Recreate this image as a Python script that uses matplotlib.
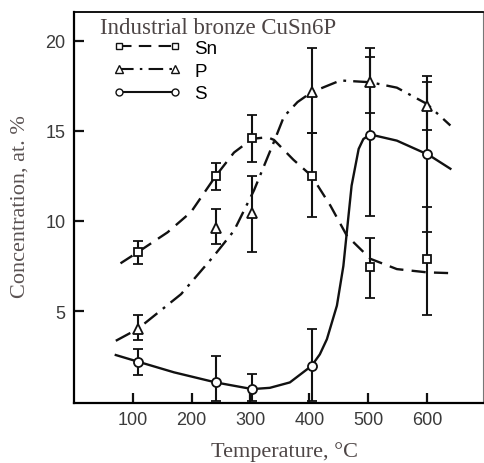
import matplotlib
matplotlib.use("Agg")
import matplotlib.pyplot as plt
from matplotlib.lines import Line2D

# measured points (temperature in C, concentration at.%)
temp = [108, 241, 303, 404, 504, 600]
sn = [8.26, 12.5, 14.6, 12.5, 7.45, 7.9]
sn_lo = [7.6, 11.7, 13.3, 10.2, 5.7, 4.8]
sn_hi = [8.9, 13.2, 15.9, 14.9, 9.05, 10.8]
p = [4.0, 9.6, 10.45, 17.15, 17.7, 16.4]
p_lo = [3.4, 8.7, 8.3, 14.9, 16.0, 15.05]
p_hi = [4.8, 10.67, 12.5, 19.6, 19.6, 18.05]
s = [2.2, 1.07, 0.67, 1.96, 14.8, 13.7]
s_lo = [1.46, 0.0, 0.0, 0.0, 10.3, 9.4]
s_hi = [2.9, 2.5, 1.5, 4.0, 19.1, 17.7]

# hand-drawn trend curves
sn_curve_t = [79, 108, 159, 199, 241, 272, 303, 329, 340, 373, 404, 436, 464, 504, 549, 600, 645]
sn_curve_c = [7.65, 8.26, 9.37, 10.5, 12.5, 13.8, 14.56, 14.65, 14.5, 13.4, 12.5, 10.85, 9.18, 7.9, 7.33, 7.15, 7.1]
p_curve_t = [71, 108, 182, 238, 272, 306, 340, 357, 380, 404, 453, 504, 549, 600, 640]
p_curve_c = [3.35, 4.0, 5.94, 8.07, 9.46, 11.7, 14.4, 15.8, 16.6, 17.15, 17.8, 17.7, 17.4, 16.5, 15.3]
s_curve_t = [71, 108, 170, 241, 303, 333, 367, 404, 418, 430, 447, 458, 465, 472, 484, 492, 504, 549, 603, 640]
s_curve_c = [2.56, 2.2, 1.6, 1.04, 0.67, 0.74, 1.04, 1.96, 2.6, 3.44, 5.3, 7.5, 9.74, 11.96, 14.0, 14.55, 14.8, 14.46, 13.67, 12.9]

INK = "#111111"
SN_LS = (0, (6, 3.5))
P_LS = (0, (7, 3, 1.2, 3))

fig = plt.figure(figsize=(4.84, 4.64), dpi=100)
ax = fig.add_axes([0.153, 0.129, 0.844, 0.843])

ax.plot(sn_curve_t, sn_curve_c, color=INK, lw=1.7, ls=SN_LS)
ax.plot(p_curve_t, p_curve_c, color=INK, lw=1.7, ls=P_LS)
ax.plot(s_curve_t, s_curve_c, color=INK, lw=1.7, ls="-")

for vals, lo, hi, mk, ms in ((sn, sn_lo, sn_hi, "s", 6), (p, p_lo, p_hi, "^", 7), (s, s_lo, s_hi, "o", 6.5)):
    err = [[v - l for v, l in zip(vals, lo)], [h - v for v, h in zip(vals, hi)]]
    ax.errorbar(temp, vals, yerr=err, fmt=mk, ms=ms, mfc="white", mec=INK, mew=1.3,
                ecolor=INK, elinewidth=1.5, capsize=3.5, capthick=1.5, zorder=3)

handles = [Line2D([], [], color=INK, lw=1.5, ls=SN_LS, marker="s", ms=5, mfc="white", mec=INK),
           Line2D([], [], color=INK, lw=1.5, ls=P_LS, marker="^", ms=6, mfc="white", mec=INK),
           Line2D([], [], color=INK, lw=1.5, ls="-", marker="o", ms=5, mfc="white", mec=INK)]
ax.legend(handles, ["Sn", "P", "S"], numpoints=2, frameon=False, loc="upper left",
          bbox_to_anchor=(0.055, 0.972), handlelength=3.6, handletextpad=0.7, labelspacing=0.3,
          prop={"family": "Liberation Sans", "size": 13.5})

ax.text(0.063, 0.988, "Industrial bronze CuSn6P", transform=ax.transAxes, ha="left", va="top",
        family="Liberation Serif", fontsize=16.5, color="#4d4545")

ax.set_xlim(0, 694.7)
ax.set_ylim(-0.11, 21.6)
ax.set_xticks([100, 200, 300, 400, 500, 600])
ax.set_yticks([5, 10, 15, 20])
ax.tick_params(direction="in", length=7, width=1.6, labelsize=13, colors=INK, labelcolor="#3a3a3a", pad=6)
for lab in ax.get_xticklabels() + ax.get_yticklabels():
    lab.set_family("Liberation Sans")
for side in ("left", "bottom"):
    ax.spines[side].set_linewidth(1.6)
ax.spines["top"].set_linewidth(1.3)
ax.spines["right"].set_linewidth(0.8)
ax.spines["right"].set_color("#777777")

ax.set_xlabel("Temperature, °C", family="Liberation Serif", fontsize=16, color="#4d4545")
ax.xaxis.set_label_coords(0.515, -0.098)
ax.set_ylabel("Concentration, at. %", family="Liberation Serif", fontsize=16, color="#5a5252")
ax.yaxis.set_label_coords(-0.11, 0.506)

fig.savefig("out.png", dpi=100)
